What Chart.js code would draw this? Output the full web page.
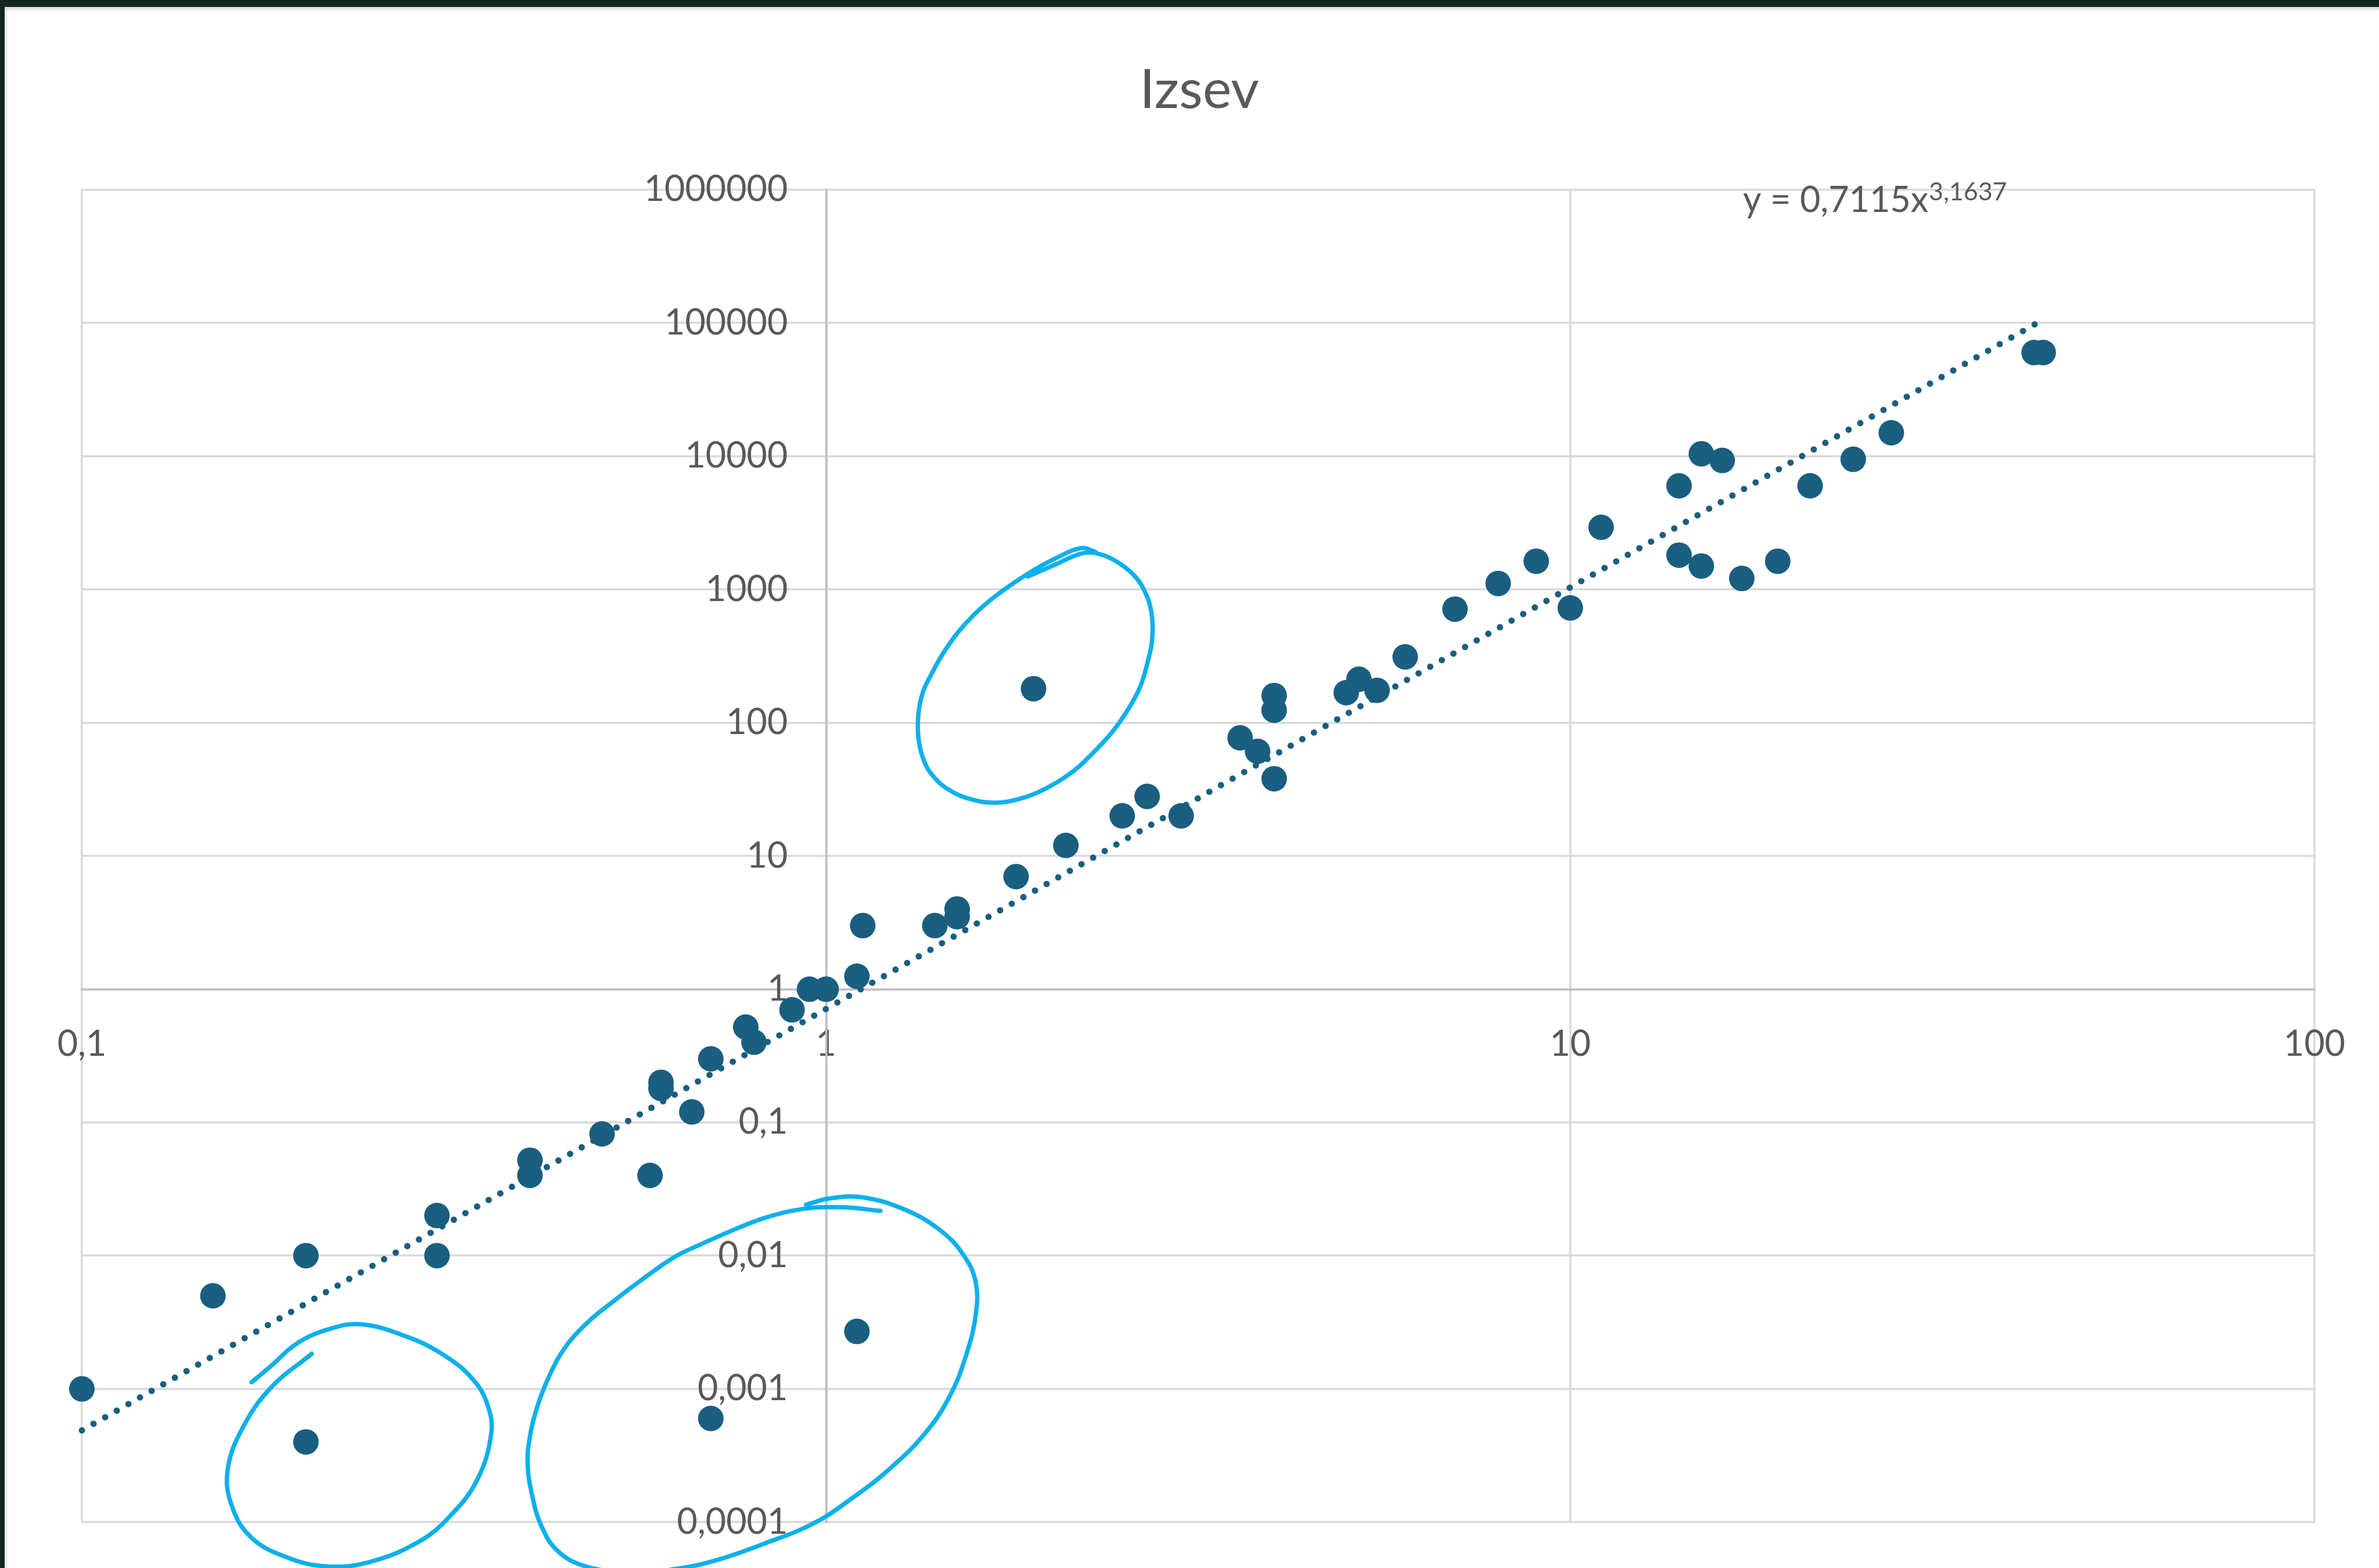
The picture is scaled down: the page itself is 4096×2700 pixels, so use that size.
<!DOCTYPE html>
<html>
<head>
<meta charset="utf-8">
<title>Izsev</title>
<script src="https://cdn.jsdelivr.net/npm/chart.js@4.4.1/dist/chart.umd.min.js"></script>
<style>
  html, body { margin: 0; padding: 0; background: #12261f; width: 4096px; height: 2700px; overflow: hidden; }
  #sheet {
    position: absolute; left: 8px; top: 12px; width: 4088px; height: 2688px;
    background: #ffffff;
    box-shadow: inset 3px 5px 4px rgba(0, 0, 0, 0.13);
  }
  #chart { display: block; }
</style>
</head>
<body>
<div id="sheet"><canvas id="chart" width="4088" height="2688"></canvas></div>
<script>
// Measured samples (x, y), both axes logarithmic
const xValues = [0.1, 0.15, 0.2, 0.2, 0.3, 0.3, 0.4, 0.4, 0.5, 0.58, 0.6, 0.6, 0.66, 0.7, 0.7, 0.78, 0.8, 0.9, 0.95, 1,
  1.1, 1.12, 1.1, 1.4, 1.5, 1.5, 1.8, 1.9, 2.1, 2.5, 2.7, 3, 3.6, 3.8, 4, 4, 4, 5, 5.2, 5.5,
  6, 7, 8, 9, 10, 11, 14, 14, 15, 15, 16, 17, 19, 21, 24, 27, 42, 43.2];
const yValues = [0.001, 0.005, 0.01, 0.0004, 0.02, 0.01, 0.052, 0.04, 0.082, 0.04, 0.2, 0.18, 0.12, 0.3, 0.0006, 0.52, 0.4, 0.7, 1, 1,
  1.25, 3, 0.0027, 3, 4, 3.5, 7, 180, 12, 20, 28, 20, 77, 61, 160, 124, 38, 168, 212, 175,
  312, 712, 1110, 1630, 727, 2930, 6000, 1810, 10430, 1500, 9300, 1210, 1630, 6000, 9490, 15000, 60000, 60000];

// Power trendline y = a * x^b
const trendA = 0.7115;
const trendB = 3.1637;

// Axis ticks (decades) and their labels
const xTickValues = [0.1, 1, 10, 100];
const xTickLabels = ['0,1', '1', '10', '100'];
const yTickValues = [0.0001, 0.001, 0.01, 0.1, 1, 10, 100, 1000, 10000, 100000, 1000000];
const yTickLabels = ['0,0001', '0,001', '0,01', '0,1', '1', '10', '100', '1000', '10000', '100000', '1000000'];

// Hand-drawn rings marking the outliers, as decade exponents [log10 x, log10 y]
const ringHigh = [[0.271, 3.097], [0.306, 3.182], [0.341, 3.267], [0.362, 3.273], [0.390, 3.211], [0.413, 3.111],
  [0.427, 3.000], [0.437, 2.832], [0.438, 2.621], [0.432, 2.454], [0.422, 2.269], [0.406, 2.102], [0.385, 1.934],
  [0.357, 1.764], [0.329, 1.623], [0.292, 1.497], [0.259, 1.427], [0.226, 1.400], [0.194, 1.427], [0.165, 1.497],
  [0.142, 1.611], [0.130, 1.738], [0.124, 1.890], [0.124, 2.061], [0.130, 2.228], [0.142, 2.369], [0.156, 2.510],
  [0.177, 2.677], [0.200, 2.818], [0.226, 2.944], [0.254, 3.056], [0.282, 3.155], [0.310, 3.238], [0.343, 3.311],
  [0.362, 3.282]];
const ringLowMid = [[0.073, -1.664], [0.027, -1.638], [-0.012, -1.638], [-0.047, -1.664], [-0.086, -1.723],
  [-0.125, -1.808], [-0.168, -1.914], [-0.203, -2.008], [-0.247, -2.178], [-0.285, -2.339], [-0.321, -2.504],
  [-0.351, -2.692], [-0.372, -2.903], [-0.388, -3.132], [-0.398, -3.358], [-0.401, -3.569], [-0.395, -3.798],
  [-0.383, -4.024], [-0.361, -4.215], [-0.325, -4.329], [-0.272, -4.373], [-0.212, -4.359], [-0.151, -4.291],
  [-0.082, -4.159], [-0.016, -4.007], [0.036, -3.816], [0.084, -3.607], [0.132, -3.340], [0.166, -3.056],
  [0.188, -2.750], [0.201, -2.445], [0.201, -2.198], [0.184, -1.990], [0.153, -1.808], [0.106, -1.655],
  [0.049, -1.562], [0.005, -1.570], [-0.027, -1.617]];
const ringLowLeft = [[-0.691, -2.736], [-0.745, -2.985], [-0.783, -3.282], [-0.804, -3.601], [-0.799, -3.871],
  [-0.773, -4.112], [-0.727, -4.259], [-0.671, -4.332], [-0.614, -4.300], [-0.549, -4.153], [-0.507, -3.965],
  [-0.469, -3.684], [-0.450, -3.334], [-0.455, -3.120], [-0.474, -2.932], [-0.511, -2.756], [-0.563, -2.609],
  [-0.626, -2.515], [-0.671, -2.557], [-0.712, -2.662], [-0.745, -2.824], [-0.772, -2.950]];

const FONT = 'Lato, "Open Sans", "DejaVu Sans", sans-serif';
const TEXT = '#595959';
const GRID = '#d9d9d9';
const AXIS = '#bfbfbf';
const MARK = '#1a5e80';
const PEN = '#0db0ec';

const decimalComma = v => String(v).replace('.', ',');
const fromDecades = ring => ring.map(([lx, ly]) => ({ x: Math.pow(10, lx), y: Math.pow(10, ly) }));

const points = xValues.map((x, i) => ({ x, y: yValues[i] }));
const trendEnds = [Math.min(...xValues), Math.max(...xValues)].map(x => ({ x, y: trendA * Math.pow(x, trendB) }));

// Value-axis labels sit to the left of the crossing axis line with a gap
const valueLabelGap = {
  id: 'valueLabelGap',
  beforeDraw(chart, args, opts) {
    const scale = chart.scales.y;
    const items = scale.getLabelItems(chart.chartArea);
    items.forEach(item => { item.options.translation[0] -= opts.gap; });
  }
};

// Trendline equation, written in the upper right of the plot
const equationLabel = {
  id: 'equationLabel',
  afterDraw(chart, args, opts) {
    const { ctx, chartArea: a } = chart;
    const x0 = a.left + opts.xFrac * (a.right - a.left);
    const base = a.top + opts.baselineOffset;
    ctx.save();
    ctx.fillStyle = opts.color;
    ctx.textAlign = 'left';
    ctx.textBaseline = 'alphabetic';
    ctx.font = `${opts.size}px ${FONT}`;
    const main = `y = ${decimalComma(trendA)}x`;
    ctx.fillText(main, x0, base);
    const w = ctx.measureText(main).width;
    ctx.font = `${opts.supSize}px ${FONT}`;
    ctx.fillText(decimalComma(trendB), x0 + w + 1, base - opts.supRise);
    ctx.restore();
  }
};

const ringStyle = {
  type: 'line',
  borderColor: PEN,
  borderWidth: 7.5,
  borderCapStyle: 'round',
  borderJoinStyle: 'round',
  tension: 0.4,
  pointRadius: 0,
  pointHoverRadius: 0,
  fill: false,
  clip: false,
  order: 0
};

function build() {
  new Chart(document.getElementById('chart'), {
    type: 'scatter',
    data: {
      datasets: [
        Object.assign({ label: 'ring-high', data: fromDecades(ringHigh) }, ringStyle),
        Object.assign({ label: 'ring-low-mid', data: fromDecades(ringLowMid) }, ringStyle),
        Object.assign({ label: 'ring-low-left', data: fromDecades(ringLowLeft) }, ringStyle),
        {
          type: 'line',
          label: 'Trend',
          data: trendEnds,
          borderColor: MARK,
          borderWidth: 11,
          borderDash: [0, 23],
          borderCapStyle: 'round',
          tension: 0,
          pointRadius: 0,
          pointHoverRadius: 0,
          fill: false,
          clip: false,
          order: 1
        },
        {
          label: 'Izsev',
          data: points,
          backgroundColor: MARK,
          pointBackgroundColor: MARK,
          pointBorderWidth: 0,
          pointRadius: 22,
          pointHoverRadius: 22,
          clip: false,
          order: 2
        }
      ]
    },
    options: {
      responsive: false,
      animation: false,
      events: [],
      layout: { padding: { left: 133, right: 107, top: 0, bottom: 79 } },
      scales: {
        x: {
          type: 'logarithmic',
          min: 0.1,
          max: 100,
          position: { y: 1 },
          afterBuildTicks: s => { s.ticks = xTickValues.map(v => ({ value: v })); },
          ticks: {
            callback: (v, i) => xTickLabels[i],
            autoSkip: false,
            maxRotation: 0,
            padding: 58,
            color: TEXT,
            font: { family: FONT, size: 61 }
          },
          grid: {
            drawTicks: false,
            lineWidth: 3.5,
            color: c => (c.tick && c.tick.value === 1 ? AXIS : GRID)
          },
          border: { display: true, color: AXIS, width: 3.5 }
        },
        y: {
          type: 'logarithmic',
          min: 0.0001,
          max: 1000000,
          position: { x: 1 },
          afterBuildTicks: s => { s.ticks = yTickValues.map(v => ({ value: v })); },
          ticks: {
            callback: (v, i) => yTickLabels[i],
            autoSkip: false,
            color: TEXT,
            font: { family: FONT, size: 61 }
          },
          grid: {
            drawTicks: false,
            lineWidth: 3.5,
            color: c => (c.tick && c.tick.value === 1 ? AXIS : GRID)
          },
          border: { display: true, color: AXIS, width: 3.5 }
        }
      },
      plugins: {
        legend: { display: false },
        tooltip: { enabled: false },
        title: {
          display: true,
          text: 'Izsev',
          color: TEXT,
          font: { family: FONT, size: 94, weight: 'normal' },
          padding: { top: 87, bottom: 115 }
        },
        valueLabelGap: { gap: 66 },
        equationLabel: {
          xFrac: 0.744,
          baselineOffset: 38,
          color: TEXT,
          size: 61,
          supSize: 43,
          supRise: 20
        }
      }
    },
    plugins: [valueLabelGap, equationLabel]
  });
}

document.fonts.load('61px Lato').then(build, build);
</script>
</body>
</html>
